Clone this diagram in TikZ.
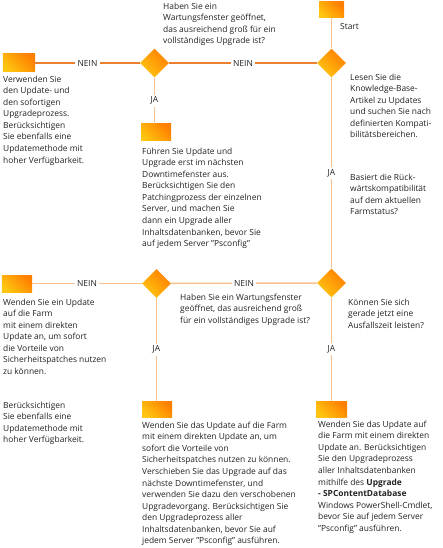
\documentclass[tikz,border=0pt]{standalone}
\usepackage{fontspec}
\setmainfont{Open Sans}
\usetikzlibrary{shapes.geometric}
\definecolor{txtc}{HTML}{222222}
\definecolor{ylw}{HTML}{FFC510}
\definecolor{org}{HTML}{FF7F00}
\definecolor{darkline}{HTML}{EA8030}
\definecolor{lightline}{HTML}{FAC290}
\begin{document}
\begin{tikzpicture}[x=1bp,y=-1bp,
  box/.style={rectangle, inner sep=0pt, minimum width=30bp, minimum height=17bp,
    bottom color=ylw, top color=org, shading angle=-45},
  dia/.style={diamond, inner sep=0pt, minimum width=29bp, minimum height=29bp,
    bottom color=ylw, top color=org, shading angle=-45},
  txt/.style={anchor=north west, inner sep=0pt, align=left, text=txtc,
    font=\fontsize{8.45}{11.6}\selectfont, execute at begin node={\rule{0pt}{7.6pt}}},
  lbl/.style={fill=white, inner sep=2.2pt, text=txtc, font=\fontsize{8.45}{11.6}\selectfont},
  dl/.style={draw=darkline, line width=1.3bp},
  ll/.style={draw=lightline, line width=1.5bp}]
\useasboundingbox (0,0) rectangle (443,548);

% shapes
\node[box, minimum width=25bp, minimum height=16bp] (start) at (331.5,10) {};
\node[dia] (d1) at (331.5,63) {};
\node[dia] (d2) at (154.5,63) {};
\node[box, minimum width=32bp, minimum height=18bp] (rTL) at (19,63) {};
\node[box] (rTM) at (156,132.5) {};
\node[dia] (d3) at (331.5,283) {};
\node[dia] (d4) at (156.5,283.5) {};
\node[box] (rLL) at (17,283.5) {};
\node[box, minimum height=16bp] (rBM) at (157,409) {};
\node[box, minimum width=31bp, minimum height=16bp] (rBR) at (331.5,409) {};

% connectors
\draw[ll] (start.south) -- (d1.north);
\draw[ll] (d1.south) -- node[lbl]{JA} (d3.north);
\draw[dl] (d1.west) -- node[lbl]{NEIN} (d2.east);
\draw[dl] (d2.west) -- node[lbl]{NEIN} (rTL.east);
\draw[ll] (d2.south) -- node[lbl]{JA} (d2.south |- rTM.north);
\draw[ll] (d3.west) -- node[lbl]{NEIN} (d4.east);
\draw[ll] (d4.west) -- node[lbl]{NEIN} (d4.west -| rLL.east);
\draw[ll] (d4.south) -- node[lbl]{JA} (d4.south |- rBM.north);
\draw[ll] (d3.south) -- node[lbl]{JA} (d3.south |- rBR.north);

% texts
\node[txt] (tStart) at (340,21.6) {Start};
\node[txt] (tQ1) at (163,2.6) {Haben Sie ein\\Wartungsfenster geöffnet,\\das ausreichend groß für ein\\vollständiges Upgrade ist?};
\node[txt] (tTL) at (3,75.6) {Verwenden Sie\\den Update- und\\den sofortigen\\Upgradeprozess.\\Berücksichtigen\\Sie ebenfalls eine\\Updatemethode mit\\hoher Verfügbarkeit.};
\node[txt] (tTM) at (142,147.6) {Führen Sie Update und\\Upgrade erst im nächsten\\Downtimefenster aus.\\Berücksichtigen Sie den\\Patchingprozess der einzelnen\\Server, und machen Sie\\dann ein Upgrade aller\\Inhaltsdatenbanken, bevor Sie\\auf jedem Server "Psconfig"};
\node[txt] (tTR) at (350,73.6) {Lesen Sie die\\Knowledge-Base-\\Artikel zu Updates\\und suchen Sie nach\\definierten Kompati-\\bilitätsbereichen.};
\node[txt] (tTR2) at (350,173.6) {Basiert die Rück-\\wärtskompatibilität\\auf dem aktuellen\\Farmstatus?};
\node[txt] (tQ2) at (180,293.6) {Haben Sie ein Wartungsfenster\\geöffnet, das ausreichend groß\\für ein vollständiges Upgrade ist?};
\node[txt] (tQ3) at (348,298.6) {Können Sie sich\\gerade jetzt eine\\Ausfallszeit leisten?};
\node[txt] (tLL) at (3,298.6) {Wenden Sie ein Update\\auf die Farm\\mit einem direkten\\Update an, um sofort\\die Vorteile von\\Sicherheitspatches nutzen\\zu können.};
\node[txt] (tLL2) at (3,401.6) {Berücksichtigen\\Sie ebenfalls eine\\Updatemethode mit\\hoher Verfügbarkeit.};
\node[txt] (tBM) at (142,421.6) {Wenden Sie das Update auf die Farm\\mit einem direkten Update an, um\\sofort die Vorteile von\\Sicherheitspatches nutzen zu können.\\Verschieben Sie das Upgrade auf das\\nächste Downtimefenster, und\\verwenden Sie dazu den verschobenen\\Upgradevorgang. Berücksichtigen Sie\\den Upgradeprozess aller\\Inhaltsdatenbanken, bevor Sie auf\\jedem Server "Psconfig" ausführen.};
\node[txt] (tBR) at (318,420.6) {Wenden Sie das Update auf\\die Farm mit einem direkten\\Update an. Berücksichtigen\\Sie den Upgradeprozess\\aller Inhaltsdatenbanken\\mithilfe des \textbf{Upgrade}\\\textbf{- SPContentDatabase}\\Windows PowerShell-Cmdlet,\\bevor Sie auf jedem Server\\"Psconfig" ausführen.};
\end{tikzpicture}
\end{document}
